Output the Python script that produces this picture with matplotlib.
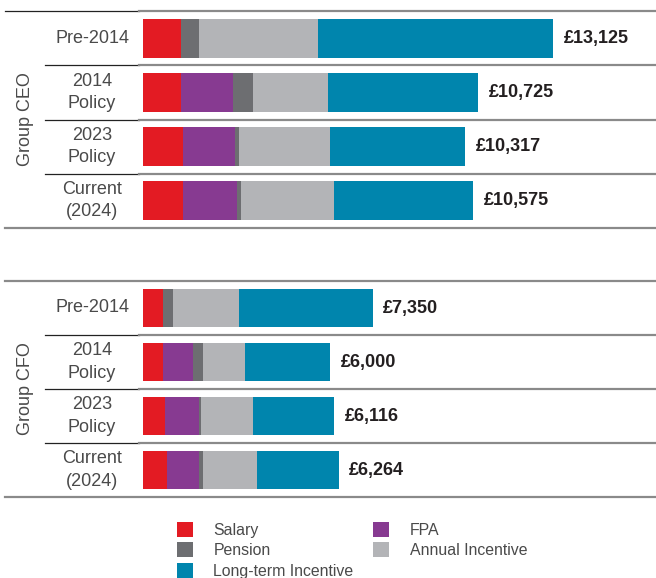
import numpy as np
import matplotlib
matplotlib.use("Agg")
import matplotlib.pyplot as plt
from matplotlib.lines import Line2D
from matplotlib.patches import Patch
from matplotlib.transforms import blended_transform_factory

plt.rcParams["font.family"] = ["Liberation Sans", "DejaVu Sans"]

# ----------------------------
# Data (£000)
# ----------------------------
rows = ["Pre-2014", "2014\nPolicy", "2023\nPolicy", "Current\n(2024)"]
components = ["Salary", "FPA", "Pension", "Annual Incentive", "Long-term Incentive"]

ceo_salary = [1216, 1216, 1280, 1280]
ceo_fpa = [0, 1665, 1665, 1729]
ceo_pension = [576, 640, 128, 128]
ceo_annual = [3809, 2401, 2913, 2977]
ceo_lti = [7524, 4803, 4331, 4461]
ceo_total = [13125, 10725, 10317, 10575]

cfo_salary = [640, 640, 704, 768]
cfo_fpa = [0, 960, 1088, 1024]
cfo_pension = [320, 320, 64, 128]
cfo_annual = [2113, 1345, 1665, 1729]
cfo_lti = [4277, 2735, 2595, 2615]
cfo_total = [7350, 6000, 6116, 6264]

colors = {
    "Salary": "#e31b23",
    "FPA": "#873a91",
    "Pension": "#6d6e71",
    "Annual Incentive": "#b3b4b7",
    "Long-term Incentive": "#0085ad",
}

# ----------------------------
# Figure (pixel based layout)
# ----------------------------
W, H = 656, 578
fig = plt.figure(figsize=(W / 100, H / 100), dpi=100)

X0 = 143          # bar origin, px
PX_PER_K = 410 / 13125
TEXT = "#4a4a4a"


def fy(y):
    return 1 - y / H


def fx(x):
    return x / W


def hline(y, x0, x1, color, lw):
    fig.add_artist(Line2D([fx(x0), fx(x1)], [fy(y), fy(y)], color=color,
                          lw=lw, transform=fig.transFigure))


def panel(top, bottom, group, series, totals, dark_top):
    ax = fig.add_axes([fx(X0), fy(bottom), 1 - fx(X0), (bottom - top) / H])
    ax.set_xlim(0, (W - X0) / PX_PER_K)
    ax.set_ylim(len(rows), 0)
    ax.axis("off")

    y = np.arange(len(rows)) + 0.5
    left = np.zeros(len(rows))
    for name in components:
        vals = np.array(series[name], dtype=float)
        ax.barh(y, vals, left=left, height=0.72, color=colors[name], lw=0)
        left += vals

    for yi, tot in zip(y, totals):
        ax.annotate(f"£{tot:,}", (tot, yi), xytext=(7.5, 0),
                    textcoords="offset points", va="center", ha="left",
                    fontsize=13, fontweight="bold", color="#231f20")

    tr = blended_transform_factory(fig.transFigure, ax.transData)
    for yi, lab in zip(y, rows):
        ax.text(fx(92), yi, lab, transform=tr, ha="center", va="center",
                fontsize=13, color=TEXT, linespacing=1.4)

    fig.text(fx(26), fy((top + bottom) / 2), group, rotation=90,
             ha="center", va="center", fontsize=13, color=TEXT)

    # rules between rows
    pitch = (bottom - top) / len(rows)
    for i in range(len(rows) + 1):
        yy = top + i * pitch
        if i == len(rows) or (i == 0 and not dark_top):
            hline(yy, 5, W, "#8a8a8a", 1.6)
        else:
            x_start = 5 if i == 0 else 45
            hline(yy, x_start, 139, "#222222", 0.9)
            hline(yy, 139, W, "#8a8a8a", 1.6)
    return ax


ceo = {"Salary": ceo_salary, "FPA": ceo_fpa, "Pension": ceo_pension,
       "Annual Incentive": ceo_annual, "Long-term Incentive": ceo_lti}
cfo = {"Salary": cfo_salary, "FPA": cfo_fpa, "Pension": cfo_pension,
       "Annual Incentive": cfo_annual, "Long-term Incentive": cfo_lti}

panel(11, 228, "Group CEO", ceo, ceo_total, dark_top=True)
panel(281, 497, "Group CFO", cfo, cfo_total, dark_top=False)

# ----------------------------
# Legend
# ----------------------------
order = ["Salary", "Pension", "Long-term Incentive", "FPA", "Annual Incentive"]
handles = [Patch(facecolor=colors[n], lw=0) for n in order]
fig.legend(handles, order, loc="upper left",
           bbox_to_anchor=(fx(177), fy(522)), ncol=2, frameon=False,
           fontsize=11.4, labelcolor=TEXT, handlelength=1.0,
           handleheight=1.08, handletextpad=1.3, columnspacing=1.25,
           labelspacing=0.28, borderpad=0, borderaxespad=0)

plt.savefig("out.png", dpi=100)
